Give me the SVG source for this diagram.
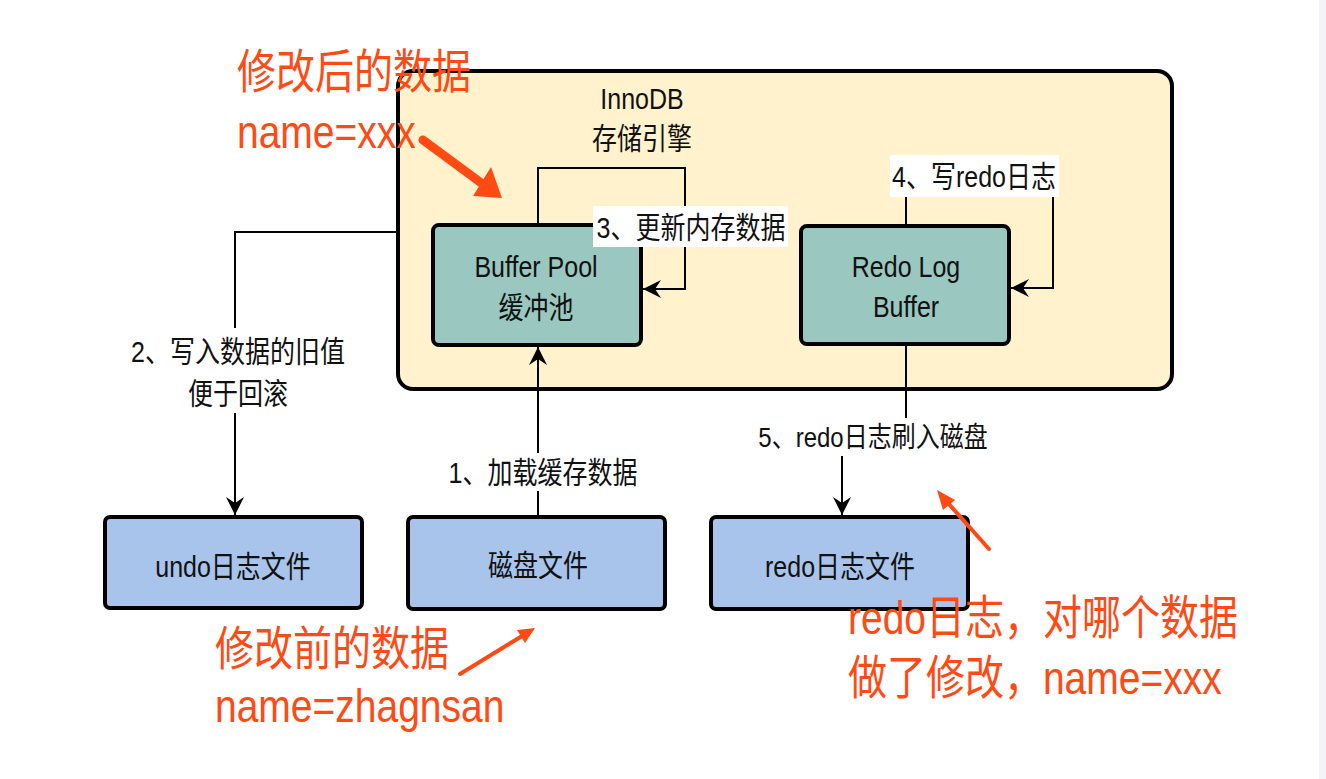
<svg xmlns="http://www.w3.org/2000/svg" width="1326" height="779" viewBox="0 0 1326 779">
  <style>
    .lbl { font-family: "Liberation Sans", "Noto Sans CJK SC", sans-serif; font-size: 25px; fill: #111; text-anchor: middle; }
    .red { font-family: "Liberation Sans", "Noto Sans CJK SC", sans-serif; font-size: 39px; fill: #ff4a14; }
    .box { stroke: #000; stroke-width: 4; }
    .mem { fill: #9ac7bf; }
    .file { fill: #a9c4eb; }
    .edge { fill: none; stroke: #000; stroke-width: 2; }
    .tagbg { fill: #fff; }
    .note { stroke: #ff4a14; fill: none; stroke-linecap: round; }
    .notehead { fill: #ff4a14; }
  </style>
  <defs>
    <marker id="arrow" markerUnits="userSpaceOnUse" viewBox="-20 -11 22 22" refX="0" refY="0" markerWidth="22" markerHeight="22" orient="auto">
      <path d="M0,0 L-18,-9 L-12,0 L-18,9 Z" fill="#000"/>
    </marker>
  </defs>

  <rect x="0" y="0" width="1326" height="779" fill="#fff"/>
  <rect x="1319" y="0" width="7" height="779" fill="#f4f4f8"/>

  <!-- storage engine container -->
  <g id="innodb">
    <rect class="box" x="398" y="71" width="774" height="318" rx="15" fill="#fff2cc"/>
    <text class="lbl" transform="translate(642,109) scale(1,1.18)">InnoDB</text>
    <text class="lbl" transform="translate(642,149) scale(1,1.18)">存储引擎</text>
  </g>

  <g id="buffer-pool">
    <rect class="box mem" x="433" y="225" width="208" height="120" rx="6"/>
    <text class="lbl" transform="translate(536,277) scale(1,1.18)">Buffer Pool</text>
    <text class="lbl" transform="translate(536,318) scale(1,1.18)">缓冲池</text>
  </g>

  <g id="redo-log-buffer">
    <rect class="box mem" x="801" y="226" width="208" height="118" rx="6"/>
    <text class="lbl" transform="translate(906,277) scale(1,1.18)">Redo Log</text>
    <text class="lbl" transform="translate(906,317) scale(1,1.18)">Buffer</text>
  </g>

  <g id="undo-file">
    <rect class="box file" x="105" y="517" width="257" height="91" rx="5"/>
    <text class="lbl" transform="translate(233,577) scale(1,1.18)">undo日志文件</text>
  </g>

  <g id="disk-file">
    <rect class="box file" x="408" y="517" width="257" height="92" rx="5"/>
    <text class="lbl" transform="translate(538,576) scale(1,1.18)">磁盘文件</text>
  </g>

  <g id="redo-file">
    <rect class="box file" x="711" y="517" width="257" height="92" rx="5"/>
    <text class="lbl" transform="translate(840,577) scale(1,1.18)">redo日志文件</text>
  </g>

  <!-- connectors -->
  <g id="connectors">
    <!-- 1: disk -> buffer pool -->
    <path class="edge" d="M538,515 V347" marker-end="url(#arrow)"/>
    <rect class="tagbg" x="446" y="453" width="195" height="38"/>
    <text class="lbl" transform="translate(543,483) scale(1,1.18)">1、加载缓存数据</text>

    <!-- 2: engine -> undo file -->
    <path class="edge" d="M397,232 H235 V515" marker-end="url(#arrow)"/>
    <rect class="tagbg" x="126" y="328" width="224" height="85"/>
    <text class="lbl" transform="translate(238,362) scale(1,1.18)">2、写入数据的旧值</text>
    <text class="lbl" transform="translate(238,404) scale(1,1.18)">便于回滚</text>

    <!-- 3: buffer pool self update -->
    <path class="edge" d="M538,225 V168 H685 V289 H643" marker-end="url(#arrow)"/>
    <rect class="tagbg" x="593" y="206" width="195" height="41"/>
    <text class="lbl" transform="translate(691,238) scale(1,1.18)">3、更新内存数据</text>

    <!-- 4: write redo log -->
    <path class="edge" d="M906,226 V176 H1053 V288 H1011" marker-end="url(#arrow)"/>
    <rect class="tagbg" x="890" y="155" width="169" height="42"/>
    <text class="lbl" transform="translate(974,187) scale(1,1.18)">4、写redo日志</text>

    <!-- 5: flush redo log to disk -->
    <path class="edge" d="M906,344 V437 H842 V515" marker-end="url(#arrow)"/>
    <rect class="tagbg" x="757" y="418" width="233" height="38"/>
    <text class="lbl" transform="translate(873,447) scale(1,1.18)" style="font-size:24px">5、redo日志刷入磁盘</text>
  </g>

  <!-- annotations -->
  <g id="note-after">
    <text class="red" transform="translate(237,88) scale(1,1.2)">修改后的数据</text>
    <text class="red" transform="translate(237,148) scale(1,1.2)">name=xxx</text>
    <line class="note" x1="423" y1="140" x2="484" y2="185" stroke-width="9"/>
    <polygon class="notehead" points="502,198 491,167 473,196"/>
  </g>

  <g id="note-before">
    <text class="red" transform="translate(215,665) scale(1,1.2)">修改前的数据</text>
    <text class="red" transform="translate(215,722) scale(1,1.2)">name=zhagnsan</text>
    <line class="note" x1="460" y1="674" x2="522" y2="636" stroke-width="4"/>
    <polygon class="notehead" points="535,628 517,630 525,643"/>
  </g>

  <g id="note-redo">
    <text class="red" transform="translate(848,634) scale(1,1.2)">redo日志，对哪个数据</text>
    <text class="red" transform="translate(848,694) scale(1,1.2)">做了修改，name=xxx</text>
    <line class="note" x1="989" y1="549" x2="948" y2="503" stroke-width="4"/>
    <polygon class="notehead" points="937,490 955,500 943,510"/>
  </g>
</svg>
